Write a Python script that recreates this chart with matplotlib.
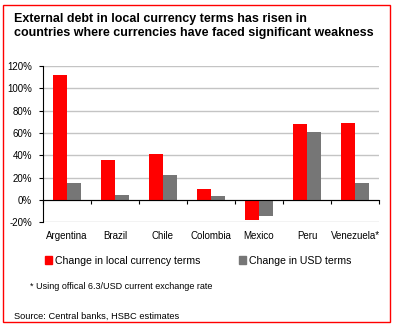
import matplotlib
matplotlib.use("Agg")
import matplotlib.pyplot as plt
import matplotlib.patches as mpatches
import matplotlib.transforms as mtransforms
import numpy as np

plt.rcParams['font.family'] = ['Liberation Sans', 'DejaVu Sans']

categories = ["Argentina", "Brazil", "Chile", "Colombia", "Mexico", "Peru", "Venezuela*"]
local_change = [112, 35.5, 41.5, 10, -18, 68, 68.5]
usd_change = [15.5, 4.3, 22.5, 4, -14, 60.5, 15]
yticks = [-20, 0, 20, 40, 60, 80, 100, 120]
ytick_labels = ["-20%", "0%", "20%", "40%", "60%", "80%", "100%", "120%"]

RED = "#FF0000"
GRAY = "#767676"

fig = plt.figure(figsize=(3.94, 3.28), dpi=100)
ax = fig.add_axes([0.109, 0.322, 0.853, 0.477])

x = np.arange(len(categories))
w = 0.29
ax.bar(x - w / 2, local_change, w, color=RED, zorder=3)
ax.bar(x + w / 2, usd_change, w, color=GRAY, zorder=3)

ax.set_xlim(-0.5, len(categories) - 0.5)
ax.set_ylim(-20, 120)
ax.set_yticks(yticks)
ax.set_yticklabels(ytick_labels, fontsize=7)
ax.yaxis.grid(True, color="#C4C4C4", linewidth=1.0, zorder=0)
ax.tick_params(axis='y', direction='out', length=3, width=0.8, pad=5, colors='black')

for s in ['top', 'right']:
    ax.spines[s].set_visible(False)
ax.spines['left'].set_linewidth(0.8)
ax.spines['bottom'].set_position(('data', 0))
ax.spines['bottom'].set_linewidth(0.8)
ax.spines['bottom'].set_zorder(4)

ax.set_xticks(x)
ax.set_xticklabels([])
ax.tick_params(axis='x', which='major', length=0)
ax.set_xticks(np.arange(len(categories) + 1) - 0.5, minor=True)
ax.tick_params(axis='x', which='minor', direction='out', length=3, width=0.8)

trans = mtransforms.blended_transform_factory(ax.transData, ax.transAxes)
for i, c in enumerate(categories):
    ax.text(i, -0.055, c, transform=trans, ha='center', va='top', fontsize=7)

# Title
fig.text(0.036, 0.96, "External debt in local currency terms has risen in\ncountries where currencies have faced significant weakness",
         fontsize=9.0, fontweight='bold', ha='left', va='top', linespacing=1.18)

# Legend
handles = [mpatches.Patch(color=RED, label="Change in local currency terms"),
           mpatches.Patch(color=GRAY, label="Change in USD terms")]
fig.legend(handles=handles, loc='center left', bbox_to_anchor=(0.114, 0.205), ncol=2,
           frameon=False, fontsize=7.6, handlelength=0.7, handleheight=0.7,
           handletextpad=0.3, columnspacing=3.6, borderaxespad=0, borderpad=0)

fig.text(0.076, 0.128, "* Using offical 6.3/USD current exchange rate", fontsize=6.5, ha='left', va='center')
fig.text(0.036, 0.037, "Source: Central banks, HSBC estimates", fontsize=6.7, ha='left', va='center')

# Red border
border = mpatches.Rectangle((0.008, 0.017), 0.982, 0.968, transform=fig.transFigure,
                            fill=False, edgecolor=RED, linewidth=1.0)
fig.add_artist(border)

fig.savefig("out.png", dpi=100)
